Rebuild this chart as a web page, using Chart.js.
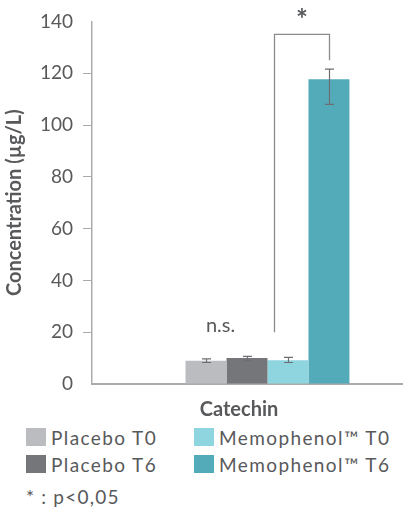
<!DOCTYPE html>
<html>
<head>
<meta charset="utf-8">
<script src="https://cdn.jsdelivr.net/npm/chart.js@4"></script>
<style>
  html, body { margin: 0; padding: 0; background: #fff; width: 405px; height: 510px; overflow: hidden; }
  #wrap { position: absolute; left: 0; top: 0; width: 405px; height: 424px; }
  #legend { position: absolute; left: 26px; top: 428px; display: grid; grid-template-columns: 168px 190px; row-gap: 9px; font-family: Lato, sans-serif; font-size: 19px; color: #58595b; letter-spacing: 1.4px; }
  .item { display: flex; align-items: center; height: 18px; white-space: nowrap; }
  .sw { width: 20px; height: 18px; margin-right: 5px; flex: none; }
  #note { position: absolute; left: 26px; top: 485px; font-family: Lato, sans-serif; font-size: 19px; color: #58595b; letter-spacing: 1.2px; white-space: nowrap; }
</style>
</head>
<body>
<div id="wrap"><canvas id="c"></canvas></div>
<div id="legend"></div>
<div id="note"></div>
<script>
// ---- data ----
const categories = ['Catechin'];
const seriesLabels = ['Placebo T0', 'Placebo T6', 'Memophenol\u2122 T0', 'Memophenol\u2122 T6'];
const placeboT0 = [9.0];
const placeboT6 = [10.0];
const memophenolT0 = [9.2];
const memophenolT6 = [117.7];
const errUpper = [9.7, 10.7, 10.3, 121.6];
const errLower = [8.3, 9.0, 8.3, 108.0];
const yTicks = [0, 20, 40, 60, 80, 100, 120, 140];
const yTitle = 'Concentration (\u00b5g/L)';
const nsLabel = 'n.s.';
const sigLabel = '*';
const nsLevel = [22.5];           // value level of the "n.s." label
const bracketLevels = [135, 20, 125]; // top, left foot, right foot (values)
const footnote = '* : p<0,05';

// ---- styles ----
const colors = ['#bbbcc0', '#75767a', '#8fd5df', '#53abba'];
const textColor = '#58595b';
const axisColor = '#ababab';

const seriesValues = [placeboT0, placeboT6, memophenolT0, memophenolT6];

const datasets = [{ label: '', data: [null], backgroundColor: 'rgba(0,0,0,0)' }].concat(
  seriesValues.map((v, i) => ({
    label: seriesLabels[i], data: v, backgroundColor: colors[i], borderWidth: 0
  }))
);

const annotPlugin = {
  id: 'annot',
  afterDatasetsDraw(chart) {
    const ctx = chart.ctx;
    const y = chart.scales.y;
    const bars = [1, 2, 3, 4].map(i => chart.getDatasetMeta(i).data[0]);
    ctx.save();
    // error bars
    ctx.strokeStyle = '#6d6e71';
    ctx.lineWidth = 1.2;
    bars.forEach((b, i) => {
      const x = Math.round(b.x) + 0.5;
      const yt = y.getPixelForValue(errUpper[i]);
      const yb = y.getPixelForValue(errLower[i]);
      ctx.beginPath();
      ctx.moveTo(x, yt); ctx.lineTo(x, yb);
      ctx.moveTo(x - 4.5, yt); ctx.lineTo(x + 4.5, yt);
      ctx.moveTo(x - 4.5, yb); ctx.lineTo(x + 4.5, yb);
      ctx.stroke();
    });
    // significance bracket
    const xl = Math.round(bars[2].x - bars[2].width * 0.33) + 0.5;
    const xr = Math.round(bars[3].x) + 0.5;
    const yTop = y.getPixelForValue(bracketLevels[0]);
    ctx.strokeStyle = '#8a8b8d';
    ctx.lineWidth = 1.3;
    ctx.beginPath();
    ctx.moveTo(xl, y.getPixelForValue(bracketLevels[1]));
    ctx.lineTo(xl, yTop);
    ctx.lineTo(xr, yTop);
    ctx.lineTo(xr, y.getPixelForValue(bracketLevels[2]));
    ctx.stroke();
    ctx.fillStyle = textColor;
    ctx.textAlign = 'center';
    ctx.textBaseline = 'middle';
    ctx.font = 'bold 28px Lato';
    ctx.fillText(sigLabel, (xl + xr) / 2, yTop - 14);
    ctx.font = '20px Lato';
    ctx.fillText(nsLabel, (bars[0].x + bars[1].x) / 2 - 6, y.getPixelForValue(nsLevel[0]));
    ctx.restore();
  }
};

new Chart(document.getElementById('c'), {
  type: 'bar',
  data: { labels: categories, datasets },
  options: {
    responsive: true,
    maintainAspectRatio: false,
    animation: false,
    layout: { padding: { top: 20, right: 3, left: 0, bottom: 0 } },
    categoryPercentage: 0.661,
    barPercentage: 1,
    plugins: { legend: { display: false }, tooltip: { enabled: false } },
    scales: {
      x: {
        grid: { display: false },
        border: { color: axisColor, width: 2 },
        ticks: { color: textColor, font: { family: 'Lato', size: 20, weight: 'bold' }, padding: 6, labelOffset: -8 },
        afterFit: s => { s.height = 40; }
      },
      y: {
        min: 0, max: 140,
        afterBuildTicks: s => { s.ticks = yTicks.map(v => ({ value: v })); },
        grid: {
          drawOnChartArea: false, drawTicks: true, tickLength: 9,
          color: c => (c.tick && (c.tick.value === 0 || c.tick.value === 140)) ? 'rgba(0,0,0,0)' : axisColor
        },
        border: { color: axisColor, width: 1.5 },
        ticks: { color: textColor, font: { family: 'Lato', size: 19 }, padding: 10 },
        title: { display: true, text: yTitle, color: textColor, font: { family: 'Lato', size: 20, weight: 'bold' }, padding: { top: 3, bottom: 0 } },
        afterFit: s => { s.width = 92; }
      }
    }
  },
  plugins: [annotPlugin]
});

// legend (column-major order as in the reference)
const order = [0, 2, 1, 3];
const legend = document.getElementById('legend');
order.forEach(i => {
  const it = document.createElement('div');
  it.className = 'item';
  const sw = document.createElement('span');
  sw.className = 'sw';
  sw.style.background = colors[i];
  const tx = document.createElement('span');
  tx.textContent = seriesLabels[i];
  it.appendChild(sw); it.appendChild(tx);
  legend.appendChild(it);
});
document.getElementById('note').textContent = footnote;
</script>
</body>
</html>
